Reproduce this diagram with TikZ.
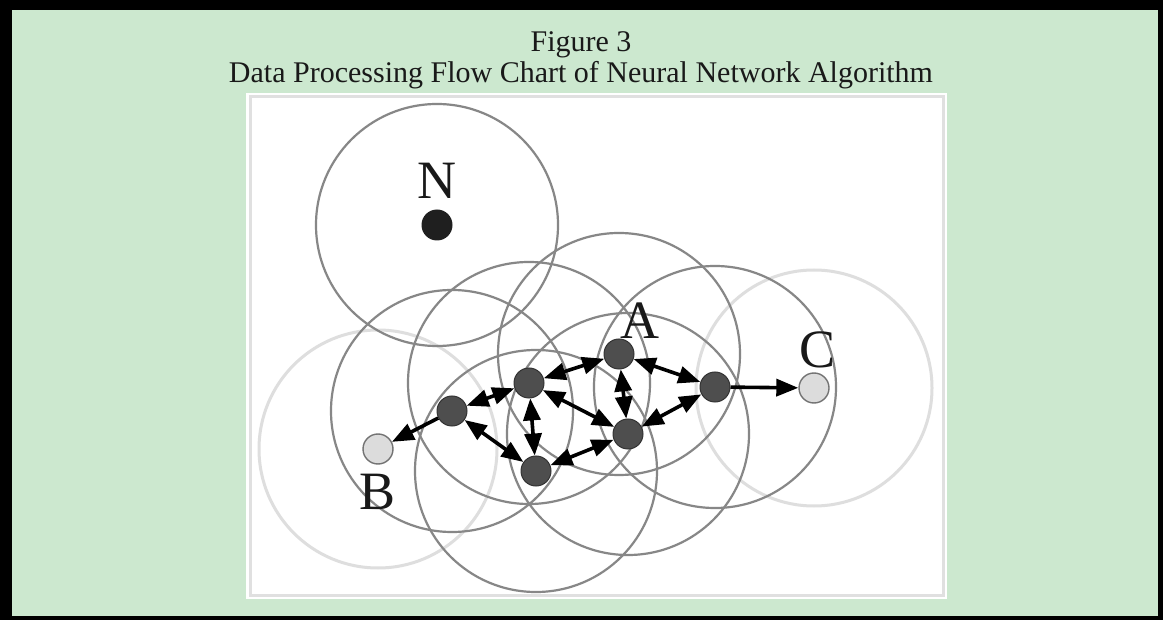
\documentclass[tikz,border=0pt]{standalone}
\usepackage{fontspec}
\setmainfont{Liberation Serif}
\usetikzlibrary{arrows.meta}
\definecolor{bggreen}{RGB}{204,232,207}
\definecolor{ringgray}{RGB}{135,135,135}
\definecolor{faintgray}{RGB}{222,222,222}
\definecolor{nodedark}{RGB}{78,78,78}
\definecolor{nodelight}{RGB}{220,220,220}
\tikzset{
  dnode/.style={circle,fill=nodedark,draw=black!80,line width=1pt,minimum size=30pt,inner sep=0pt},
  lnode/.style={circle,fill=nodelight,draw=black!55,line width=1.4pt,minimum size=30pt,inner sep=0pt},
  nnode/.style={circle,fill=black!88,minimum size=31pt,inner sep=0pt},
  ring/.style={draw=ringgray,line width=2.2pt},
  faintring/.style={draw=faintgray,line width=3pt},
  lbl/.style={inner sep=0pt,font=\fontsize{54}{56}\selectfont,text=black!90},
  link/.style={line width=3.6pt,black,{Triangle[length=22pt,width=17pt]}-{Triangle[length=22pt,width=17pt]}},
  onelink/.style={line width=3.6pt,black,-{Triangle[length=22pt,width=17pt]}},
  ttl/.style={inner sep=0pt,anchor=base,font=\fontsize{30}{32}\selectfont,text=black!90}
}
\begin{document}
\begin{tikzpicture}[x=1pt,y=-1pt]
\useasboundingbox (0,0) rectangle (1163,620);
\fill[black] (0,0) rectangle (1163,620);
\fill[bggreen] (12,10) rectangle (1158,616);
\fill[white] (246,93) rectangle (947,599);
\draw[black!12,line width=3pt] (250,97) rectangle (943,595);
% titles
\node[ttl] (t1) at (581,52) {Figure 3};
\node[ttl] (t2) at (581,83) {Data Processing Flow Chart of Neural Network Algorithm};
% node positions
\coordinate (pN) at (437,225);
\coordinate (pA) at (619,354);
\coordinate (pP) at (529,383);
\coordinate (pQ) at (452,411);
\coordinate (pB) at (378,449);
\coordinate (pR) at (536,471);
\coordinate (pS) at (628,434);
\coordinate (pT) at (715,387);
\coordinate (pC) at (814,388);
% rings
\draw[faintring] (pB) circle[radius=119];
\draw[faintring] (pC) circle[radius=118];
\foreach \p in {pN,pA,pP,pQ,pR,pS,pT}{
  \draw[ring] (\p) circle[radius=121];
}
% nodes
\node[nnode] (N) at (pN) {};
\node[dnode] (A) at (pA) {};
\node[dnode] (P) at (pP) {};
\node[dnode] (Q) at (pQ) {};
\node[lnode] (B) at (pB) {};
\node[dnode] (R) at (pR) {};
\node[dnode] (S) at (pS) {};
\node[dnode] (T) at (pT) {};
\node[lnode] (C) at (pC) {};
% labels
\node[lbl] (lN) at (437,181) {N};
\node[lbl] (lA) at (640,321) {A};
\node[lbl] (lB) at (378,492) {B};
\node[lbl] (lC) at (818,350) {C};
% connectors
\draw[link] (P) -- (A);
\draw[link] (P) -- (Q);
\draw[link] (P) -- (R);
\draw[link] (P) -- (S);
\draw[link] (A) -- (S);
\draw[link] (A) -- (T);
\draw[link] (Q) -- (R);
\draw[link] (R) -- (S);
\draw[link] (S) -- (T);
\draw[onelink] (Q) -- (B);
\draw[onelink] (T) -- (C);
\end{tikzpicture}
\end{document}
